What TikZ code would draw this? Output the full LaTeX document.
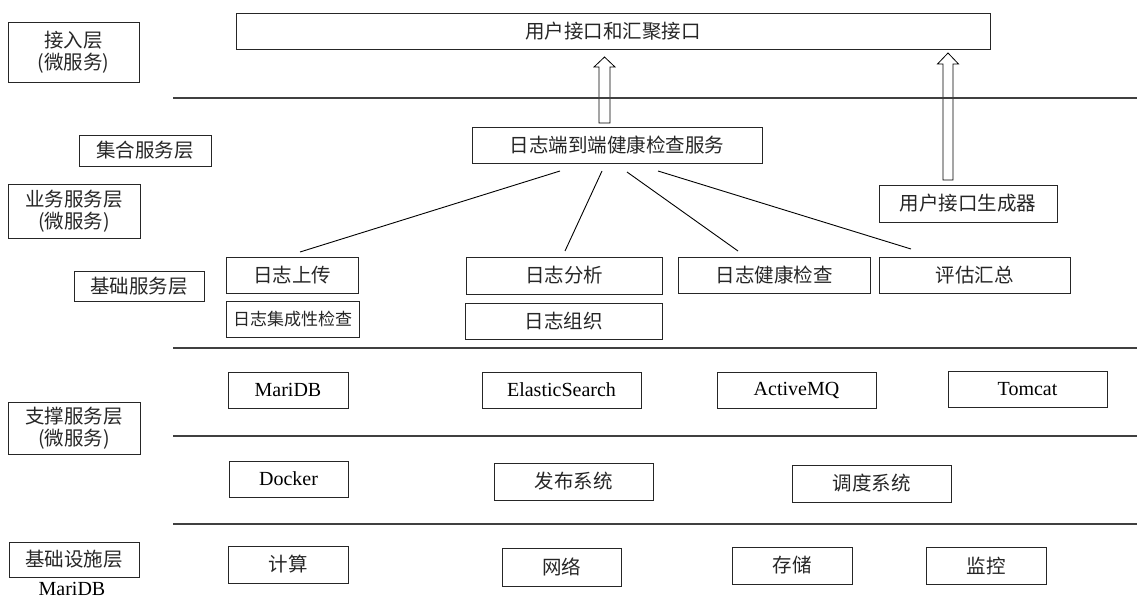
\documentclass[tikz,border=0pt]{standalone}
\usepackage{fontspec}
\setmainfont{Liberation Serif}
\newfontfamily\cjk{Noto Sans CJK SC}
\usetikzlibrary{calc}
\begin{document}
\begin{tikzpicture}[x=1pt,y=-1pt,
  bx/.style={draw=black!85, line width=0.9pt, inner sep=0pt, align=center,
    text=black!85, font=\fontsize{19.5}{22}\selectfont\cjk},
  lat/.style={bx, text=black, font=\fontsize{20}{23}\selectfont},
  sz/.style 2 args={minimum width=#1pt, minimum height=#2pt},
  sepline/.style={draw=black!75, line width=1.2pt},
  conn/.style={draw=black, line width=0.9pt},
  blk/.style={draw=black, line width=0.8pt},
  captext/.style={inner sep=0pt, font=\fontsize{20}{23}\selectfont}
]
\useasboundingbox (0,0) rectangle (1137,599);

% layer labels
\node[bx, sz={131}{60}] (Ljr) at (73.5,52) {接入层\\(微服务)};
\node[bx, sz={132}{31}] (Ljh) at (145,150.5) {集合服务层};
\node[bx, sz={132}{54}] (Lyw) at (74,211) {业务服务层\\(微服务)};
\node[bx, sz={130}{30}] (Ljc) at (139,286) {基础服务层};
\node[bx, sz={132}{52}] (Lzc) at (74,428) {支撑服务层\\(微服务)};
\node[bx, sz={130}{35}] (Lss) at (74,559.5) {基础设施层};
\node[captext] (mcap) at (72,589) {MariDB};

% separators
\coordinate (s1a) at (173,98);  \coordinate (s1b) at (1137,98);
\coordinate (s2a) at (173,348); \coordinate (s2b) at (1137,348);
\coordinate (s3a) at (173,436); \coordinate (s3b) at (1137,436);
\coordinate (s4a) at (173,524); \coordinate (s4b) at (1137,524);

% boxes
\node[bx, sz={754}{36}] (top) at (613,31) {用户接口和汇聚接口};
\node[bx, sz={290}{36}] (hc) at (617,145) {日志端到端健康检查服务};
\node[bx, sz={178}{37}] (gen) at (968,203.5) {用户接口生成器};

\node[bx, sz={132}{36}] (up) at (292,275) {日志上传};
\node[bx, sz={196}{37}] (an) at (564,275.5) {日志分析};
\node[bx, sz={192}{36}] (hk) at (774,275) {日志健康检查};
\node[bx, sz={191}{36}] (pg) at (974.5,275) {评估汇总};
\node[bx, sz={133}{36}, font=\fontsize{17}{20}\selectfont\cjk] (jc) at (292.5,319) {日志集成性检查};
\node[bx, sz={197}{36}] (zz) at (563.5,321) {日志组织};

\node[lat, sz={120}{36}] (mdb) at (288,390) {MariDB};
\node[lat, sz={159}{36}] (es) at (561.5,390) {ElasticSearch};
\node[lat, sz={159}{36}] (amq) at (796.5,390) {ActiveMQ};
\node[lat, sz={159}{36}] (tc) at (1027.5,389) {Tomcat};

\node[lat, sz={119}{36}] (dk) at (288.5,479) {Docker};
\node[bx, sz={159}{37}] (fb) at (573.5,481.5) {发布系统};
\node[bx, sz={159}{37}] (dd) at (871.5,483.5) {调度系统};

\node[bx, sz={120}{37}] (js) at (288,564.5) {计算};
\node[bx, sz={119}{38}] (wl) at (561.5,567) {网络};
\node[bx, sz={120}{37}] (cc) at (792,565.5) {存储};
\node[bx, sz={120}{37}] (jk) at (986,565.5) {监控};

% block arrows
\coordinate (a1) at (604.5,123);
\draw[blk] (a1) ++(-5.5,0) -- ++(0,-56) -- ++(-5,0) -- ++(10.5,-10) -- ++(10.5,10) -- ++(-5,0) -- ++(0,56) -- cycle;
\coordinate (a2) at (948,180);
\draw[blk] (a2) ++(-5,0) -- ++(0,-116) -- ++(-5.5,0) -- ++(10.5,-11) -- ++(10.5,11) -- ++(-5.5,0) -- ++(0,116) -- cycle;

\draw[sepline] (s1a) -- (s1b);
\draw[sepline] (s2a) -- (s2b);
\draw[sepline] (s3a) -- (s3b);
\draw[sepline] (s4a) -- (s4b);

% connectors
\coordinate (c1s) at (560,171); \coordinate (c1e) at (300,252);
\coordinate (c2s) at (602,171); \coordinate (c2e) at (565,251);
\coordinate (c3s) at (627,172); \coordinate (c3e) at (738,251);
\coordinate (c4s) at (658,171); \coordinate (c4e) at (911,249);
\draw[conn] (c1s) -- (c1e);
\draw[conn] (c2s) -- (c2e);
\draw[conn] (c3s) -- (c3e);
\draw[conn] (c4s) -- (c4e);
\end{tikzpicture}
\end{document}
